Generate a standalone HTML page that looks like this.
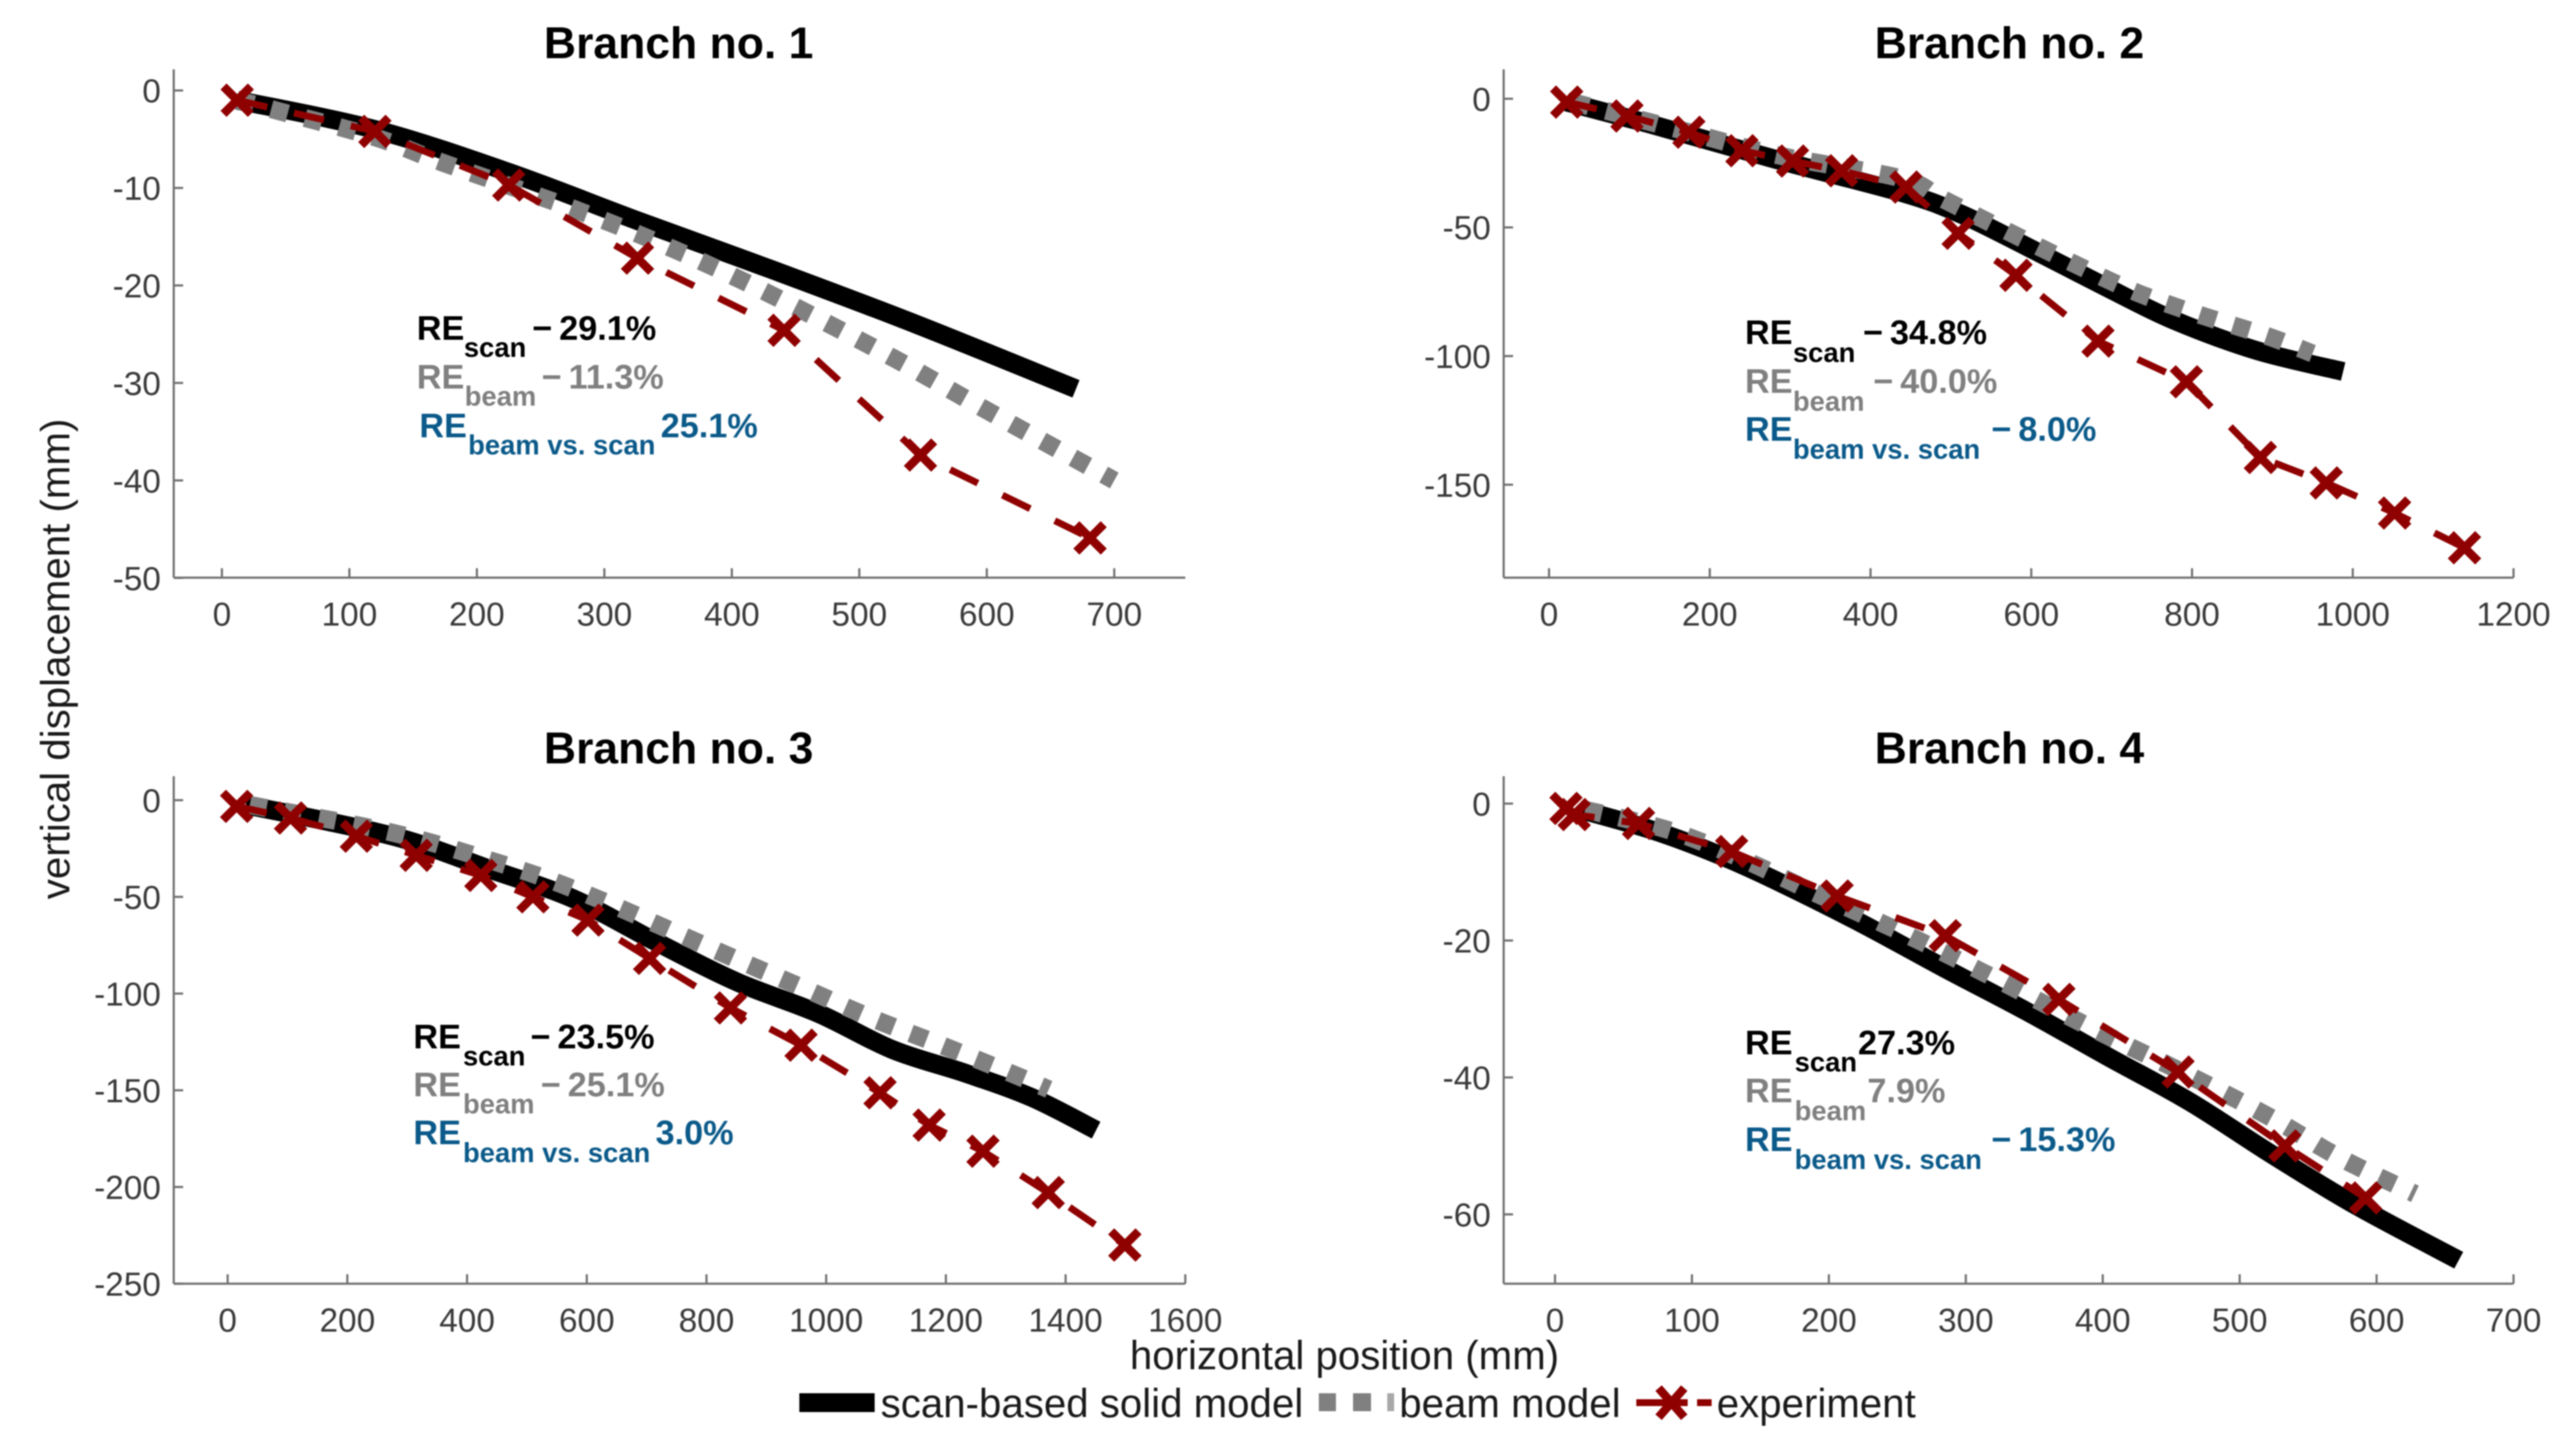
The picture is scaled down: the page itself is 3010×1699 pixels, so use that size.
<!DOCTYPE html>
<html lang="en">
<head>
<meta charset="utf-8">
<title>Branch displacement comparison</title>
<style>
  html, body { margin: 0; padding: 0; background: #fff; }
  svg { display: block; font-family: "Liberation Sans", Arial, sans-serif; filter: blur(0.8px); }
  .title { font-size: 52px; font-weight: 700; fill: #000; text-anchor: middle; }
  .tick { font-size: 39px; fill: #3a3a3a; }
  .re { font-size: 40px; font-weight: 700; }
  .sub { font-size: 32px; font-weight: 700; }
  .k { fill: #000; }
  .g { fill: #808080; }
  .b { fill: #0b5a8a; }
  .axis-label { font-size: 47px; fill: #1a1a1a; }
</style>
</head>
<body>
<svg id="chart" xmlns="http://www.w3.org/2000/svg" width="3010" height="1699" viewBox="0 0 3010 1699">
  <rect x="0" y="0" width="3010" height="1699" fill="#fff"/>
  <g id="plots"></g>

  <text class="title" x="793" y="68">Branch no. 1</text>
  <text class="title" x="2348" y="68">Branch no. 2</text>
  <text class="title" x="793" y="892">Branch no. 3</text>
  <text class="title" x="2348" y="892">Branch no. 4</text>

  <text class="axis-label" text-anchor="middle" transform="translate(81 770) rotate(-90)">vertical displacement (mm)</text>
  <text class="axis-label" x="1571" y="1600" text-anchor="middle">horizontal position (mm)</text>

  <g>
    <text class="re k" x="487" y="397">RE</text><text class="sub k" x="542" y="417">scan</text><text class="re k" x="622" y="397">−<tspan dx="8">29.1%</tspan></text>
    <text class="re g" x="487" y="454">RE</text><text class="sub g" x="543" y="474">beam</text><text class="re g" x="633" y="454">−<tspan dx="8">11.3%</tspan></text>
    <text class="re b" x="490" y="511">RE</text><text class="sub b" x="547" y="531">beam vs. scan</text><text class="re b" x="772" y="511">25.1%</text>
  </g>
  <g>
    <text class="re k" x="2039" y="402">RE</text><text class="sub k" x="2095" y="423">scan</text><text class="re k" x="2177" y="402">−<tspan dx="8">34.8%</tspan></text>
    <text class="re g" x="2039" y="459">RE</text><text class="sub g" x="2095" y="480">beam</text><text class="re g" x="2189" y="459">−<tspan dx="8">40.0%</tspan></text>
    <text class="re b" x="2039" y="515">RE</text><text class="sub b" x="2095" y="536">beam vs. scan</text><text class="re b" x="2327" y="515">−<tspan dx="8">8.0%</tspan></text>
  </g>
  <g>
    <text class="re k" x="483" y="1225">RE</text><text class="sub k" x="541" y="1245">scan</text><text class="re k" x="620" y="1225">−<tspan dx="8">23.5%</tspan></text>
    <text class="re g" x="483" y="1281">RE</text><text class="sub g" x="541" y="1301">beam</text><text class="re g" x="632" y="1281">−<tspan dx="8">25.1%</tspan></text>
    <text class="re b" x="483" y="1337">RE</text><text class="sub b" x="541" y="1358">beam vs. scan</text><text class="re b" x="766" y="1337">3.0%</text>
  </g>
  <g>
    <text class="re k" x="2039" y="1232">RE</text><text class="sub k" x="2097" y="1252">scan</text><text class="re k" x="2171" y="1232">27.3%</text>
    <text class="re g" x="2039" y="1288">RE</text><text class="sub g" x="2097" y="1309">beam</text><text class="re g" x="2182" y="1288">7.9%</text>
    <text class="re b" x="2039" y="1345">RE</text><text class="sub b" x="2097" y="1366">beam vs. scan</text><text class="re b" x="2327" y="1345">−<tspan dx="8">15.3%</tspan></text>
  </g>

  <g>
    <rect x="934" y="1628" width="88" height="22" fill="#000"/>
    <text class="axis-label" x="1029" y="1656">scan-based solid model</text>
    <rect x="1541" y="1628" width="20" height="21" fill="#808080"/>
    <rect x="1581" y="1628" width="21" height="21" fill="#808080"/>
    <rect x="1621" y="1628" width="8" height="21" fill="#a8a8a8"/>
    <text class="axis-label" x="1635" y="1656">beam model</text>
    <line x1="1912" y1="1639" x2="1972" y2="1639" stroke="#8f0000" stroke-width="8"/>
    <line x1="1983" y1="1639" x2="2000" y2="1639" stroke="#8f0000" stroke-width="8"/>
    <path d="M1938 1622L1968 1656M1938 1656L1968 1622" stroke="#8f0000" stroke-width="10" fill="none"/>
    <text class="axis-label" x="2006" y="1656">experiment</text>
  </g>
</svg>

<script>
// ---------- Branch 1 values (mm) ----------
const branch1ScanX = [12, 120, 225, 327, 436, 545, 670];
const branch1ScanY = [-1, -4.0, -8.4, -13.4, -18.6, -24, -30.6];
const branch1BeamX = [12, 44, 120, 173, 275, 353, 430, 526, 597, 700];
const branch1BeamY = [-1, -2.1, -4.8, -7.4, -12.1, -16.2, -20.9, -27.4, -32.6, -40];
const branch1ExpX = [12, 120, 225, 326, 441, 548, 681];
const branch1ExpY = [-1.0, -4.2, -9.7, -17.2, -24.6, -37.4, -45.9];
const branch1XTicks = [0, 100, 200, 300, 400, 500, 600, 700];
const branch1YTicks = [0, -10, -20, -30, -40, -50];

// ---------- Branch 2 values (mm) ----------
const branch2ScanX = [22, 131, 285, 439, 511, 593, 695, 777, 880, 988];
const branch2ScanY = [-1.3, -10.3, -23.8, -36.5, -44.6, -57.2, -73.5, -86, -97.8, -106];
const branch2BeamX = [29, 162, 285, 439, 490, 572, 649, 731, 813, 895, 950];
const branch2BeamY = [-1.3, -12, -22, -31, -39, -51.8, -63.5, -75.3, -84.3, -92.4, -99];
const branch2ExpX = [22, 97, 174, 240, 303, 364, 444, 509, 581, 683, 793, 885, 967, 1052, 1139];
const branch2ExpY = [-1.3, -6.7, -13, -20.2, -24.2, -28, -34.3, -52.3, -68.6, -94.2, -110, -139.4, -149.3, -161, -174.5];
const branch2XTicks = [0, 200, 400, 600, 800, 1000, 1200];
const branch2YTicks = [0, -50, -100, -150];

// ---------- Branch 3 values (mm) ----------
const branch3ScanX = [30, 167, 304, 441, 578, 714, 851, 988, 1111, 1235, 1344, 1451];
const branch3ScanY = [-2.5, -11, -21, -36, -51, -73, -94, -110.4, -129, -141.4, -153.8, -170.6];
const branch3BeamX = [37, 208, 317, 427, 536, 646, 755, 865, 968, 1077, 1187, 1296, 1372];
const branch3BeamY = [-2.5, -12.4, -20, -30, -41, -54.6, -69.4, -84.3, -98, -112.8, -126, -139.6, -149.5];
const branch3ExpX = [15, 105, 215, 315, 423, 510, 602, 705, 840, 958, 1090, 1172, 1262, 1371, 1499];
const branch3ExpY = [-3.2, -9.2, -18.6, -28.5, -38.9, -50, -62, -81.8, -107.4, -126.7, -151.3, -168, -181.5, -202.9, -230];
const branch3XTicks = [0, 200, 400, 600, 800, 1000, 1200, 1400, 1600];
const branch3YTicks = [0, -50, -100, -150, -200, -250];

// ---------- Branch 4 values (mm) ----------
const branch4ScanX = [19, 73, 121, 163, 223, 284, 344, 404, 464, 524, 585, 660];
const branch4ScanY = [-0.9, -4, -7.6, -11.4, -17.4, -24, -30.3, -37, -43.6, -51.3, -58.7, -66.7];
const branch4BeamX = [22, 85, 139, 187, 253, 320, 392, 464, 524, 573, 628];
const branch4BeamY = [-0.9, -4, -8.3, -12.8, -18.8, -25.4, -32.8, -39.8, -46, -51.7, -57];
const branch4ExpX = [8, 14, 61, 129, 206, 285, 368, 455, 533, 592];
const branch4ExpY = [-0.7, -1.6, -2.9, -7, -13.5, -19.3, -28.6, -39.2, -50, -57.6];
const branch4XTicks = [0, 100, 200, 300, 400, 500, 600, 700];
const branch4YTicks = [0, -20, -40, -60];

const SVG_NS = 'http://www.w3.org/2000/svg';
const plots = document.getElementById('plots');

function makeSvg(tag, attrs, parent) {
  const el = document.createElementNS(SVG_NS, tag);
  for (const k in attrs) el.setAttribute(k, attrs[k]);
  parent.appendChild(el);
  return el;
}

function linearScale(d0, d1, r0, r1) {
  return function (v) { return r0 + (v - d0) * (r1 - r0) / (d1 - d0); };
}

function drawPanel(id, box, xTicks, yTicks, scanX, scanY, beamX, beamY, expX, expY) {
  const xScale = linearScale(xTicks[0], xTicks[xTicks.length - 1], box.x0, box.x1);
  const yScale = linearScale(yTicks[0], yTicks[yTicks.length - 1], box.y0, box.y1);

  const g = makeSvg('g', {}, plots);
  
  

  const xAxis = makeSvg('line', { x1: box.left, x2: box.right, y1: box.bottom, y2: box.bottom, stroke: '#707070', 'stroke-width': 2.5 }, g);
  
  

  const yAxis = makeSvg('line', { x1: box.left, x2: box.left, y1: box.top, y2: box.bottom, stroke: '#707070', 'stroke-width': 2.5 }, g);
  
  

  xTicks.forEach(function (t) {
    const px = xScale(t);
    const mark = makeSvg('line', { x1: px, x2: px, y1: box.bottom, y2: box.bottom - 11, stroke: '#707070', 'stroke-width': 2.5 }, g);
    
    
    const label = makeSvg('text', { x: px, y: box.bottom + 56, 'text-anchor': 'middle', class: 'tick' }, g);
    
    
    label.textContent = String(t);
  });

  yTicks.forEach(function (t) {
    const py = yScale(t);
    const mark = makeSvg('line', { x1: box.left, x2: box.left + 11, y1: py, y2: py, stroke: '#707070', 'stroke-width': 2.5 }, g);
    
    
    const label = makeSvg('text', { x: box.left - 15, y: py + 14, 'text-anchor': 'end', class: 'tick' }, g);
    
    
    label.textContent = String(t);
  });

  function pathOf(xs, ys) {
    return xs.map(function (v, i) {
      return (i ? 'L' : 'M') + xScale(v).toFixed(1) + ' ' + yScale(ys[i]).toFixed(1);
    }).join('');
  }

  // Catmull-Rom smoothing through the values
  function smoothPathOf(xs, ys) {
    const pts = xs.map(function (v, i) { return [xScale(v), yScale(ys[i])]; });
    let d = 'M' + pts[0][0].toFixed(1) + ' ' + pts[0][1].toFixed(1);
    for (let i = 0; i < pts.length - 1; i++) {
      const p0 = pts[Math.max(0, i - 1)];
      const p1 = pts[i];
      const p2 = pts[i + 1];
      const p3 = pts[Math.min(pts.length - 1, i + 2)];
      d += 'C' + (p1[0] + (p2[0] - p0[0]) / 6).toFixed(1) + ' ' + (p1[1] + (p2[1] - p0[1]) / 6).toFixed(1) +
           ' ' + (p2[0] - (p3[0] - p1[0]) / 6).toFixed(1) + ' ' + (p2[1] - (p3[1] - p1[1]) / 6).toFixed(1) +
           ' ' + p2[0].toFixed(1) + ' ' + p2[1].toFixed(1);
    }
    return d;
  }

  const scan = makeSvg('path', { d: smoothPathOf(scanX, scanY), fill: 'none', stroke: '#000', 'stroke-width': 22, 'stroke-linejoin': 'round' }, g);
  
  

  const beam = makeSvg('path', { d: smoothPathOf(beamX, beamY), fill: 'none', stroke: '#808080', 'stroke-width': 21, 'stroke-dasharray': '20 21', 'stroke-linejoin': 'round' }, g);
  
  

  const exp = makeSvg('path', { d: pathOf(expX, expY), fill: 'none', stroke: '#8f0000', 'stroke-width': 8, 'stroke-dasharray': '36 32', 'stroke-linejoin': 'round' }, g);
  
  

  expX.forEach(function (v, i) {
    const cx = xScale(v);
    const cy = yScale(expY[i]);
    const r = 16;
    const d = 'M' + (cx - r) + ' ' + (cy - r) + 'L' + (cx + r) + ' ' + (cy + r) + 'M' + (cx - r) + ' ' + (cy + r) + 'L' + (cx + r) + ' ' + (cy - r);
    const marker = makeSvg('path', { d: d, fill: 'none', stroke: '#8f0000', 'stroke-width': 10 }, g);
    
    
  });
}

drawPanel(1, { left: 203, right: 1385, top: 81, bottom: 675, x0: 259.3, x1: 1302, y0: 105.7, y1: 675.3 },
  branch1XTicks, branch1YTicks, branch1ScanX, branch1ScanY, branch1BeamX, branch1BeamY, branch1ExpX, branch1ExpY);
drawPanel(2, { left: 1757, right: 2937, top: 81, bottom: 675, x0: 1810, x1: 2937, y0: 115.4, y1: 566.4 },
  branch2XTicks, branch2YTicks, branch2ScanX, branch2ScanY, branch2BeamX, branch2BeamY, branch2ExpX, branch2ExpY);
drawPanel(3, { left: 203, right: 1385, top: 907, bottom: 1500, x0: 266, x1: 1385, y0: 935, y1: 1500 },
  branch3XTicks, branch3YTicks, branch3ScanX, branch3ScanY, branch3BeamX, branch3BeamY, branch3ExpX, branch3ExpY);
drawPanel(4, { left: 1757, right: 2937, top: 907, bottom: 1500, x0: 1817, x1: 2937, y0: 939, y1: 1419 },
  branch4XTicks, branch4YTicks, branch4ScanX, branch4ScanY, branch4BeamX, branch4BeamY, branch4ExpX, branch4ExpY);
</script>
</body>
</html>
